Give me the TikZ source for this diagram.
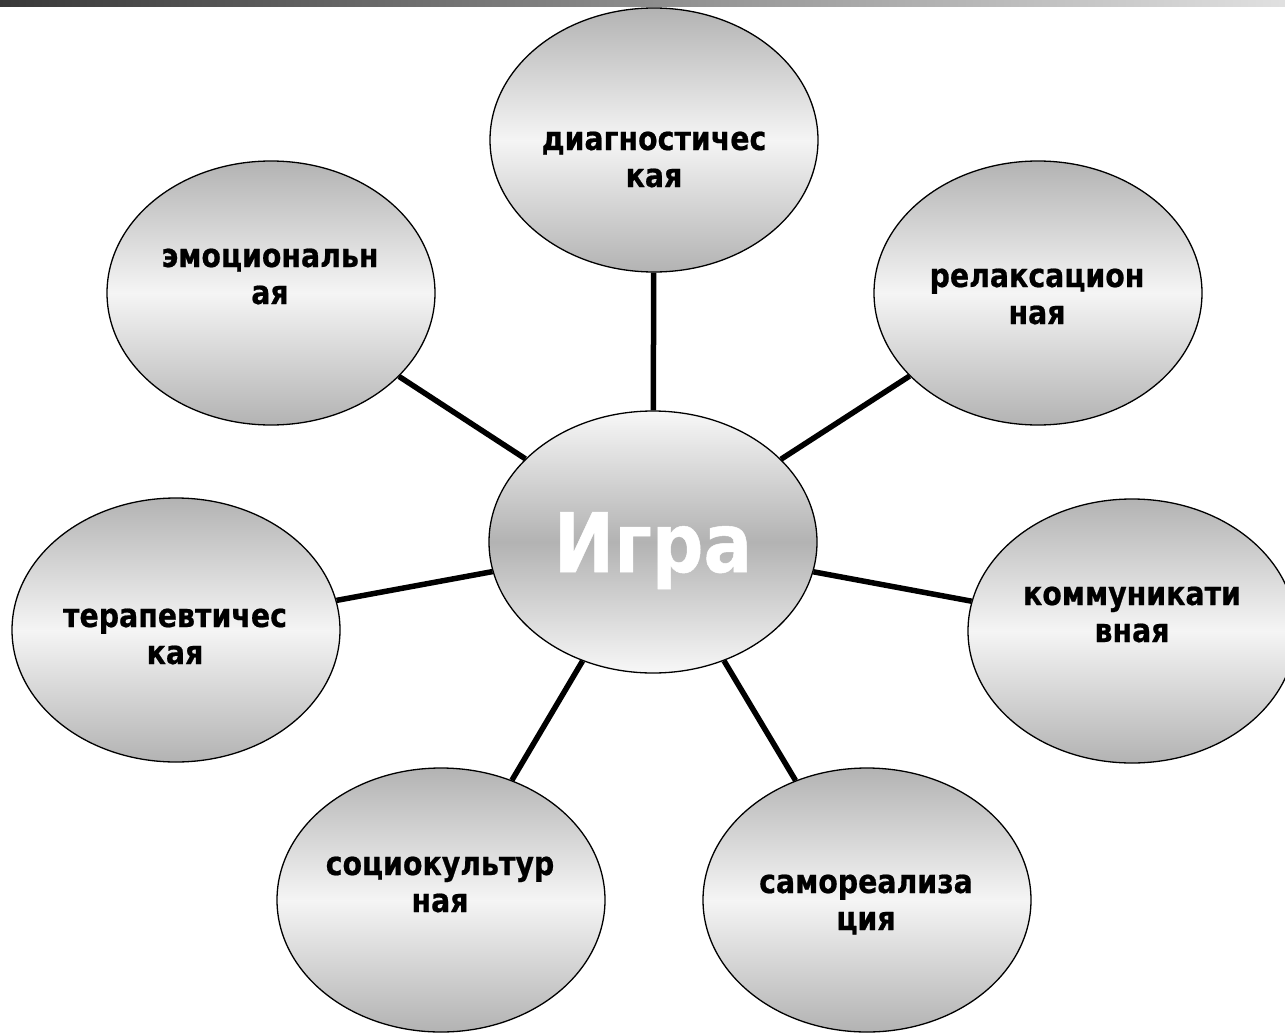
\documentclass[tikz,border=0pt]{standalone}
\usepackage{fontspec}
\setmainfont{DejaVu Sans}
\newfontfamily\heavyfont{DejaVu Sans Bold}[FakeStretch=0.86, FakeBold=0.6]
\newfontfamily\hubfont{DejaVu Sans Bold}[FakeStretch=0.88, FakeBold=0.6]
\usetikzlibrary{shapes.geometric}
\definecolor{edgegray}{gray}{0.70}
\definecolor{bardark}{gray}{0.22}
\definecolor{barlight}{gray}{0.88}
\newcommand\twolines[2]{\begin{tabular}[t]{@{}c@{}}#1\\#2\end{tabular}}
\begin{document}
\begin{tikzpicture}[x=1pt,y=-1pt,
  outer/.style={ellipse, draw=black, line width=1.3pt, minimum width=328pt,
    minimum height=264pt, inner sep=0pt,
    top color=edgegray, bottom color=edgegray, middle color=white!96!black},
  hub/.style={ellipse, draw=black, line width=1.3pt, minimum width=328pt,
    minimum height=262pt, inner sep=0pt,
    top color=white!97!black, bottom color=white!97!black, middle color=edgegray},
  link/.style={line width=5.5pt, draw=black},
  lbl/.style={anchor=base, inner sep=0pt,
    font=\heavyfont\fontsize{33}{37}\selectfont}]
\useasboundingbox (0,0) rectangle (1285,1033);
\clip (0,0) rectangle (1285,1033);
\fill[left color=bardark, right color=barlight] (0,0) rectangle (1285,7);

\node[hub] (hubn) at (653,542) {};
\node[outer] (diag) at (654,140) {};
\node[outer] (emo) at (271,293) {};
\node[outer] (rel) at (1038,293) {};
\node[outer] (ter) at (176,630) {};
\node[outer] (kom) at (1132,631) {};
\node[outer] (soc) at (441,900) {};
\node[outer] (sam) at (867,900) {};

\draw[link] (hubn) -- (diag);
\draw[link] (hubn) -- (emo);
\draw[link] (hubn) -- (rel);
\draw[link] (hubn) -- (ter);
\draw[link] (hubn) -- (kom);
\draw[link] (hubn) -- (soc);
\draw[link] (hubn) -- (sam);

\node[lbl] (tdiag) at (654,150) {\twolines{диагностичес}{кая}};
\node[lbl] (temo) at (270,267) {\twolines{эмоциональн}{ая}};
\node[lbl] (trel) at (1037,287) {\twolines{релаксацион}{ная}};
\node[lbl] (tter) at (175,627) {\twolines{терапевтичес}{кая}};
\node[lbl] (tkom) at (1132,605) {\twolines{коммуникати}{вная}};
\node[lbl] (tsoc) at (440,875) {\twolines{социокультур}{ная}};
\node[lbl] (tsam) at (866,893) {\twolines{самореализа}{ция}};
\node[anchor=base, inner sep=0pt, text=white,
  font=\hubfont\fontsize{82}{90}\selectfont] (thub) at (653,572) {Игра};
\end{tikzpicture}
\end{document}
